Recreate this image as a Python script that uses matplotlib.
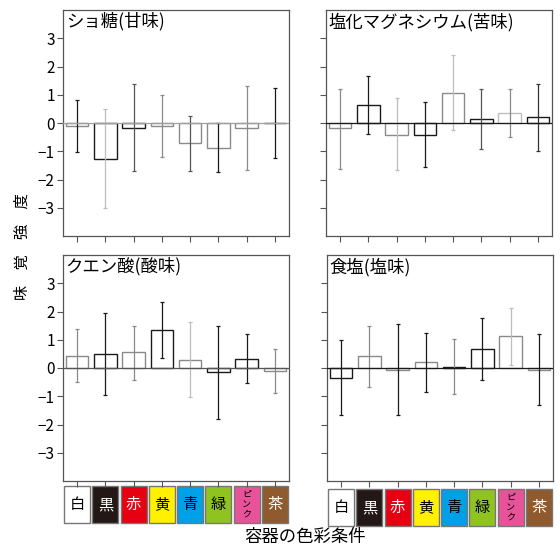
import numpy as np
import matplotlib.pyplot as plt
from matplotlib.patches import Rectangle
from matplotlib.transforms import blended_transform_factory

plt.rcParams['font.family'] = ['Noto Sans CJK JP', 'DejaVu Sans']

# container colours (x categories)
colors = ["白", "黒", "赤", "黄", "青", "緑", "ピンク", "茶"]

titles = ["ショ糖(甘味)", "塩化マグネシウム(苦味)", "クエン酸(酸味)", "食塩(塩味)"]

# mean taste intensity and error bar ends
sweet_mean = [-0.12, -1.27, -0.16, -0.1, -0.71, -0.87, -0.16, 0.0]
sweet_hi = [0.83, 0.49, 1.38, 0.99, 0.26, 0.0, 1.32, 1.23]
sweet_lo = [-1.04, -3.02, -1.71, -1.21, -1.69, -1.75, -1.67, -1.24]

bitter_mean = [-0.18, 0.65, -0.42, -0.42, 1.06, 0.15, 0.37, 0.21]
bitter_hi = [1.21, 1.68, 0.88, 0.75, 2.4, 1.21, 1.21, 1.37]
bitter_lo = [-1.63, -0.39, -1.67, -1.54, -0.25, -0.93, -0.5, -0.98]

sour_mean = [0.44, 0.5, 0.55, 1.35, 0.29, -0.15, 0.33, -0.12]
sour_hi = [1.37, 1.93, 1.49, 2.32, 1.62, 1.49, 1.2, 0.68]
sour_lo = [-0.5, -0.94, -0.42, 0.37, -1.04, -1.81, -0.54, -0.9]

salt_mean = [-0.37, 0.43, -0.06, 0.2, 0.04, 0.67, 1.12, -0.06]
salt_hi = [0.98, 1.48, 1.56, 1.25, 1.04, 1.76, 2.14, 1.2]
salt_lo = [-1.68, -0.68, -1.67, -0.86, -0.93, -0.44, 0.12, -1.31]

panels = [
    (sweet_mean, sweet_hi, sweet_lo),
    (bitter_mean, bitter_hi, bitter_lo),
    (sour_mean, sour_hi, sour_lo),
    (salt_mean, salt_hi, salt_lo),
]

# styling: bar edge / error bar shade per panel
K, G, LG = "#1a1a1a", "#8a8a8a", "#bdbdbd"
edge_cols = [
    [G, K, K, G, G, G, G, K],
    [G, K, G, K, G, K, LG, K],
    [G, K, G, K, G, K, K, G],
    [K, G, G, G, K, K, G, G],
]
err_cols = [
    [K, LG, "#555555", G, "#555555", K, G, K],
    [G, K, LG, K, LG, "#555555", G, "#333333"],
    [G, K, G, K, LG, K, K, G],
    [K, G, K, K, G, K, LG, K],
]
zero_cols = ["#a0a0a0", K, "#555555", K]

box_fc = ["white", "#231815", "#e60012", "#fff100", "#00a0e9", "#8fc31f", "#e85298", "#8f5a2e"]
box_tc = ["black", "white", "white", "black", "black", "black", "black", "white"]

fig = plt.figure(figsize=(5.6, 5.48), dpi=100)
W, H = 560, 548
rects = [
    (63, 10), (326, 10),
    (63, 255), (327, 255),
]
x = np.arange(len(colors))

axes = []
for i, (px, py) in enumerate(rects):
    ax = fig.add_axes([px / W, 1 - (py + 226) / H, 226 / W, 226 / H])
    axes.append(ax)
    mean, hi, lo = panels[i]
    mean = np.array(mean)
    ax.bar(x, mean, width=0.8, facecolor="white", edgecolor=edge_cols[i], linewidth=1.0, zorder=2)
    for j in range(len(x)):
        ax.errorbar(x[j], mean[j], yerr=[[mean[j] - lo[j]], [hi[j] - mean[j]]],
                    fmt="none", ecolor=err_cols[i][j], elinewidth=0.9, capsize=1.5,
                    capthick=0.9, zorder=3)
    ax.axhline(0, color=zero_cols[i], linewidth=0.9, zorder=4)
    ax.set_xlim(-0.5, 7.5)
    ax.set_ylim(-4, 4)
    ax.set_yticks([-3, -2, -1, 0, 1, 2, 3])
    ax.set_xticks(x)
    ax.set_xticklabels([])
    ax.tick_params(direction="out", length=4, width=0.8, color="#555555",
                   labelsize=11, pad=2)
    if i % 2 == 1:
        ax.set_yticklabels([])
    for s in ax.spines.values():
        s.set_color("#555555")
        s.set_linewidth(0.9)
    ax.text(0.012, 0.99, titles[i], transform=ax.transAxes, ha="left", va="top",
            fontsize=12.5)

# colour boxes under the bottom panels
for ax, (ytop, ybot) in [(axes[2], (-0.022, -0.186)), (axes[3], (-0.035, -0.2))]:
    tr = blended_transform_factory(ax.transData, ax.transAxes)
    for j, name in enumerate(colors):
        r = Rectangle((j - 0.46, ybot), 0.92, ytop - ybot, transform=tr,
                      facecolor=box_fc[j], edgecolor="#777777", linewidth=1.0,
                      clip_on=False)
        ax.add_patch(r)
        yc = (ytop + ybot) / 2
        if name == "ピンク":
            ax.text(j, yc, "ピ\nン\nク", transform=tr, ha="center", va="center",
                    fontsize=6.5, color=box_tc[j], linespacing=1.1)
        else:
            ax.text(j, yc, name, transform=tr, ha="center", va="center",
                    fontsize=11, color=box_tc[j])

fig.text(305 / W, 1 - 537 / H, "容器の色彩条件", ha="center", va="center", fontsize=12.5)
fig.text(22 / W, 1 - 247 / H, "味　覚　強　度", ha="center", va="center",
         rotation=90, fontsize=11)

fig.savefig("out.png", dpi=100)
